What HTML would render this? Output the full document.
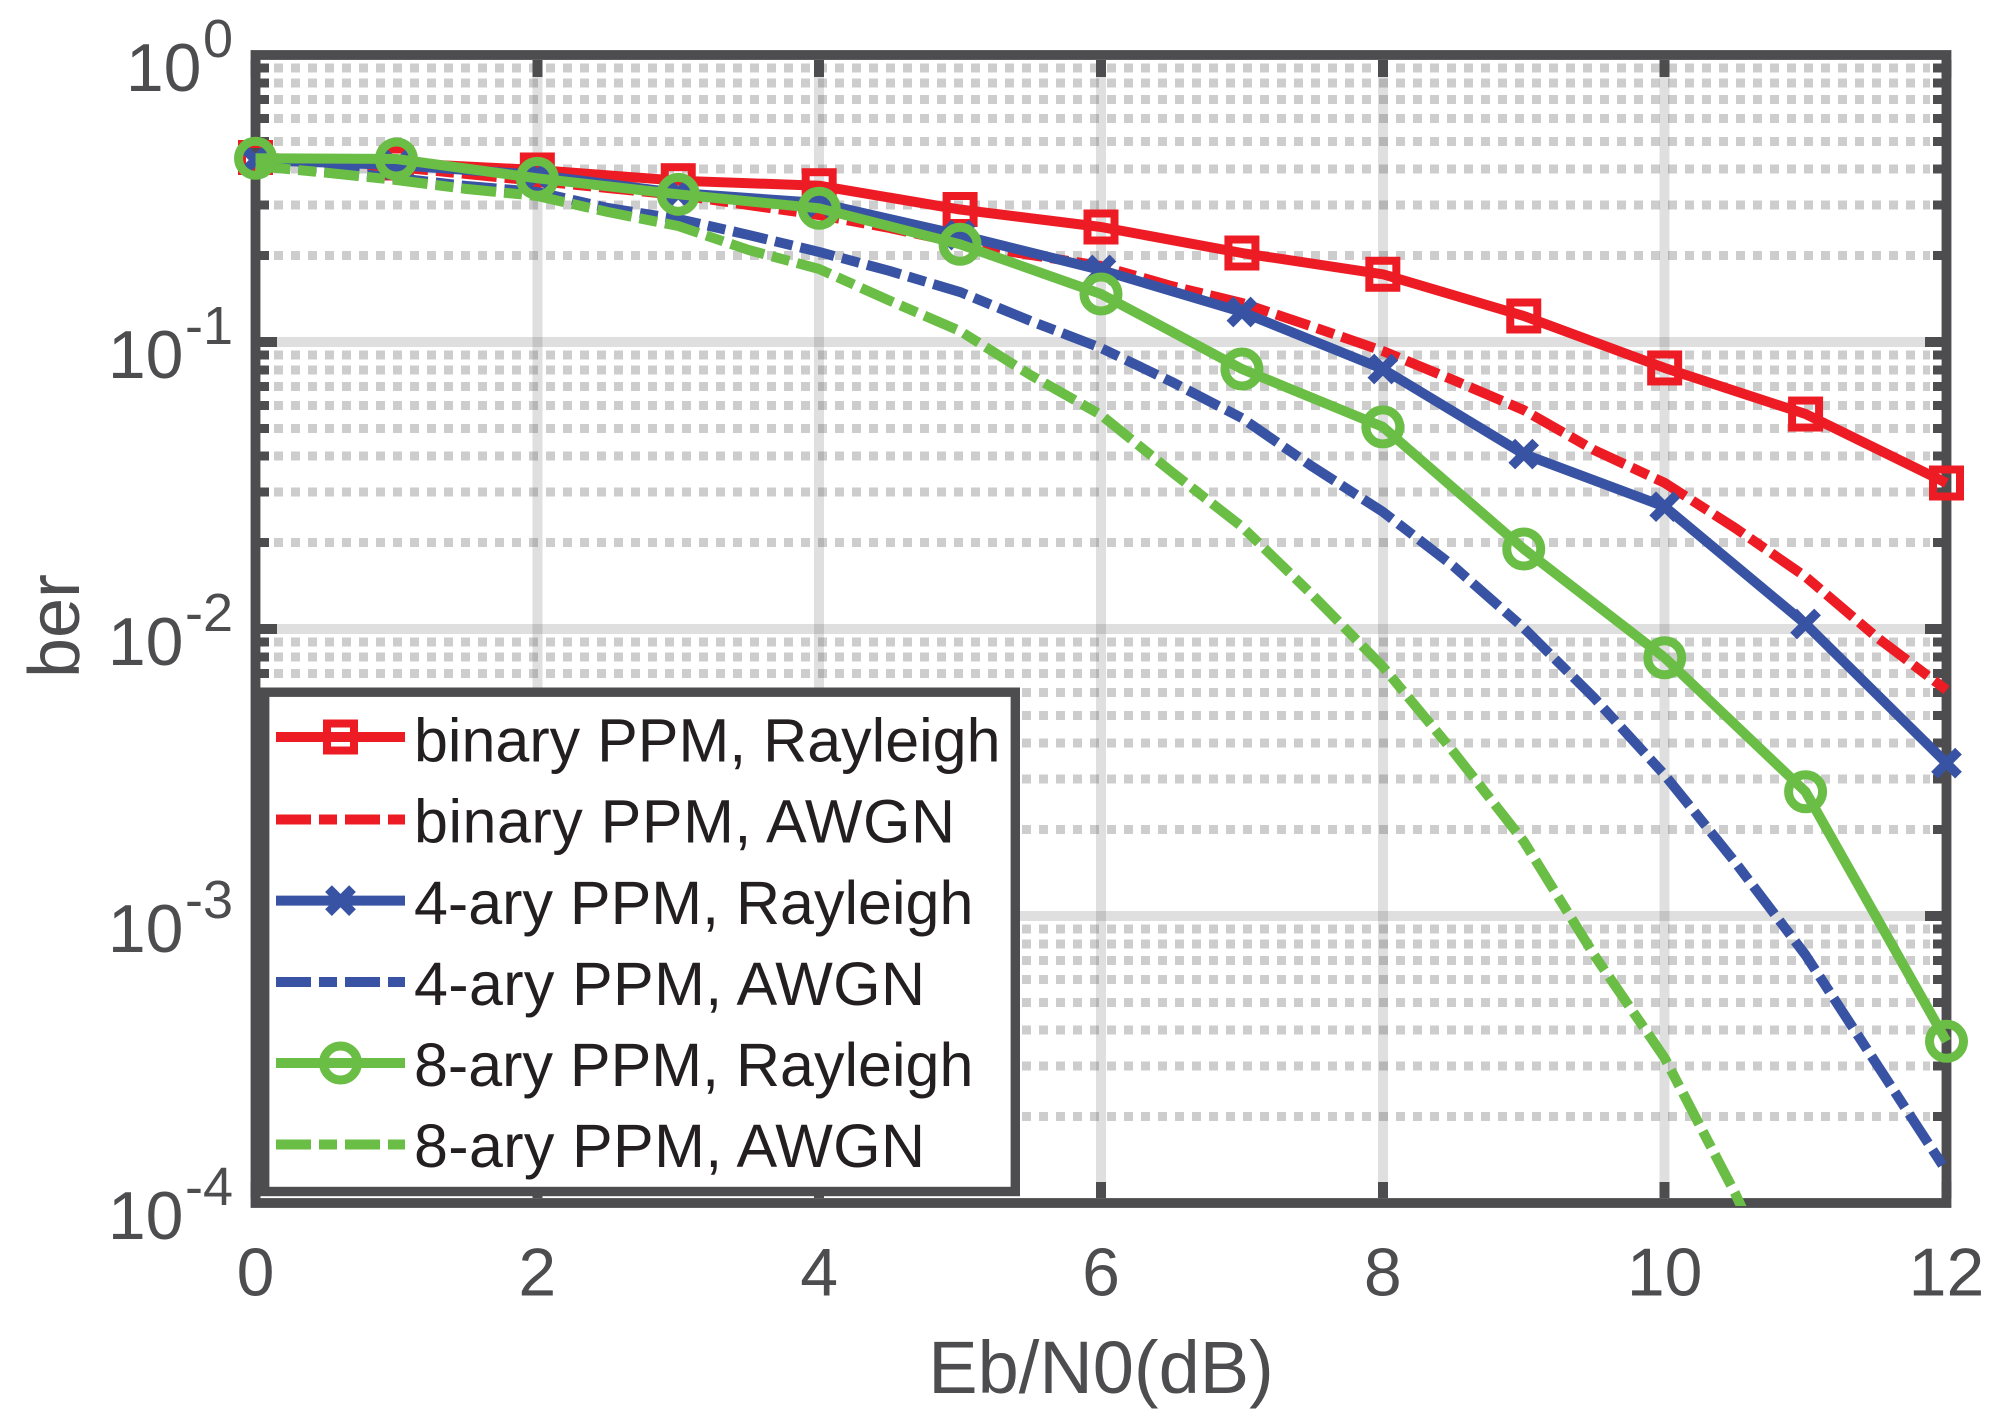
<!DOCTYPE html>
<html lang="en">
<head>
<meta charset="utf-8">
<title>BER vs Eb/N0</title>
<style>
html,body{margin:0;padding:0;background:#fff;width:2001px;height:1416px;overflow:hidden}
svg{display:block;font-family:"Liberation Sans",Arial,sans-serif}
</style>
</head>
<body>
<svg id="chart" xmlns="http://www.w3.org/2000/svg" width="2001" height="1416" viewBox="0 0 2001 1416">
  <defs>
    <clipPath id="plot-clip"><rect x="200" y="50" width="1751" height="1156"/></clipPath>
  </defs>
  <rect x="0" y="0" width="2001" height="1416" fill="#ffffff"/>
  <g id="grid" shape-rendering="crispEdges"></g>
  <g id="ticks" shape-rendering="crispEdges"></g>
  <rect x="255.5" y="55" width="1691" height="1148" fill="none" stroke="#4d4d4f" stroke-width="9.8"/>
  <g id="tick-labels"></g>
  <text x="1101" y="1393" font-size="74" fill="#4d4d4f" text-anchor="middle">Eb/N0(dB)</text>
  <text x="79" y="626" font-size="72" fill="#4d4d4f" text-anchor="middle" transform="rotate(-90 79 626)">ber</text>
  <g id="series"></g>
  <g>
    <rect x="264.7" y="692.2" width="750.6" height="499.3" fill="#ffffff" stroke="#4d4d4f" stroke-width="9.4"/>
    <g>
      <line x1="276" y1="737" x2="405" y2="737" stroke="#ed1c24" stroke-width="10"/>
      <rect x="327" y="723.5" width="27" height="27" fill="none" stroke="#ed1c24" stroke-width="8"/>
      <text x="414" y="761.4" font-size="61" fill="#231f20">binary PPM, Rayleigh</text>
    </g>
    <g>
      <line x1="276" y1="819.5" x2="405" y2="819.5" stroke="#ed1c24" stroke-width="10" stroke-dasharray="35 8 18 8"/>
      <text x="414" y="842.6" font-size="61" fill="#231f20" textLength="541" lengthAdjust="spacing">binary PPM, AWGN</text>
    </g>
    <g>
      <line x1="276" y1="900.6" x2="405" y2="900.6" stroke="#3953a4" stroke-width="10"/>
      <path d="M328.5 888.6 L352.5 912.6 M352.5 888.6 L328.5 912.6" fill="none" stroke="#3953a4" stroke-width="9.5"/>
      <text x="414" y="923.8" font-size="61" fill="#231f20">4-ary PPM, Rayleigh</text>
    </g>
    <g>
      <line x1="276" y1="982" x2="405" y2="982" stroke="#3953a4" stroke-width="10" stroke-dasharray="35 8 18 8"/>
      <text x="414" y="1005" font-size="61" fill="#231f20" textLength="511" lengthAdjust="spacing">4-ary PPM, AWGN</text>
    </g>
    <g>
      <line x1="276" y1="1063" x2="405" y2="1063" stroke="#6abd45" stroke-width="10"/>
      <circle cx="340.5" cy="1063" r="17" fill="none" stroke="#6abd45" stroke-width="9"/>
      <text x="414" y="1086" font-size="61" fill="#231f20">8-ary PPM, Rayleigh</text>
    </g>
    <g>
      <line x1="276" y1="1144.5" x2="405" y2="1144.5" stroke="#6abd45" stroke-width="10" stroke-dasharray="35 8 18 8"/>
      <text x="414" y="1167" font-size="61" fill="#231f20" textLength="511" lengthAdjust="spacing">8-ary PPM, AWGN</text>
    </g>
  </g>
</svg>
<script>
var xTicks = [0, 2, 4, 6, 8, 10, 12];
var yTickExponents = [0, -1, -2, -3, -4];
var yMinorMultipliers = [2, 3, 4, 5, 6, 7, 8, 9];

var rayleighEbN0 = [0, 1, 2, 3, 4, 5, 6, 7, 8, 9, 10, 11, 12];
var binaryRayleigh = [0.4394, 0.4204, 0.3975, 0.3648, 0.3504, 0.2895, 0.2516, 0.2042, 0.1722, 0.1232, 0.0812, 0.0561, 0.03226];
var fourAryRayleigh = [0.4306, 0.4136, 0.3819, 0.3304, 0.3050, 0.2360, 0.1782, 0.1272, 0.0805, 0.0407, 0.02668, 0.01041, 0.00341];
var eightAryRayleigh = [0.4366, 0.4341, 0.3718, 0.3270, 0.2923, 0.2190, 0.1470, 0.0805, 0.0506, 0.0190, 0.00794, 0.00271, 0.000366];

var awgnEbN0 = [0, 0.5, 1, 1.5, 2, 2.5, 3, 3.5, 4, 4.5, 5, 5.5, 6, 6.5, 7, 7.5, 8, 8.5, 9, 9.5, 10, 10.5, 11, 11.5, 12];
var binaryAwgn = [0.4306, 0.4204, 0.4072, 0.3849, 0.3639, 0.3440, 0.3253, 0.3001, 0.2770, 0.2496, 0.2213, 0.2010, 0.1840, 0.1567, 0.1368, 0.1131, 0.0930, 0.0737, 0.0579, 0.0420, 0.0323, 0.02249, 0.01521, 0.00940, 0.00613];
var fourAryAwgn = [0.4136, 0.3975, 0.3727, 0.3495, 0.3331, 0.2931, 0.2683, 0.2360, 0.2059, 0.1768, 0.1493, 0.1184, 0.0953, 0.0727, 0.0543, 0.0368, 0.0256, 0.01657, 0.01008, 0.00575, 0.00310, 0.00154, 0.000731, 0.000307, 0.000129];
var eightAryAwgn = [0.4104, 0.3890, 0.3668, 0.3412, 0.3227, 0.2838, 0.2536, 0.2092, 0.1796, 0.1393, 0.1092, 0.0767, 0.0557, 0.0353, 0.02272, 0.01314, 0.00739, 0.00374, 0.00182, 0.000731, 0.000320, 0.000108, 0.000032];

var SVG_NS = 'http://www.w3.org/2000/svg';
var RED = '#ed1c24', BLUE = '#3953a4', GREEN = '#6abd45', AXIS = '#4d4d4f';
var LEFT = 255.5, RIGHT = 1946.5, TOP = 55, DECADE = 287, X_MAX = 12;

function sx(v) { return LEFT + v * (RIGHT - LEFT) / X_MAX; }
function sy(v) { return TOP - Math.log10(v) * DECADE; }

function make(tag, parent) {
  var el = document.createElementNS(SVG_NS, tag);
  parent.appendChild(el);
  return el;
}
function seg(el, x1, y1, x2, y2, color, width) {
  el.setAttribute('x1', x1);
  el.setAttribute('y1', y1);
  el.setAttribute('x2', x2);
  el.setAttribute('y2', y2);
  el.setAttribute('stroke', color);
  el.setAttribute('stroke-width', width);
}

var gridG = document.getElementById('grid');
var ticksG = document.getElementById('ticks');
var labelsG = document.getElementById('tick-labels');
var seriesG = document.getElementById('series');

yTickExponents.forEach(function (e, i) {
  var base = Math.pow(10, e);
  var y = sy(base);
  if (i > 0 && i < yTickExponents.length - 1) {
    var gl = make('line', gridG);
    
    
    seg(gl, 277, y, 1925, y, AXIS, 10);
    gl.setAttribute('stroke-opacity', '0.18');
    var tl = make('line', ticksG);
    
    
    seg(tl, 260, y, 277, y, AXIS, 10);
    var tr = make('line', ticksG);
    
    
    seg(tr, 1925, y, 1942, y, AXIS, 10);
  }
  var t = make('text', labelsG);
  
  
  t.setAttribute('x', 233);
  t.setAttribute('y', y + 36);
  t.setAttribute('font-size', 68);
  t.setAttribute('fill', AXIS);
  t.setAttribute('text-anchor', 'end');
  t.appendChild(document.createTextNode('10'));
  var sup = make('tspan', t);
  sup.setAttribute('dy', -34);
  sup.setAttribute('dx', 1.5);
  sup.setAttribute('font-size', 54);
  sup.textContent = String(e);

  if (i < yTickExponents.length - 1) {
    yMinorMultipliers.forEach(function (m) {
      var my = sy(base / 10 * m);
      var d = make('line', gridG);
      
      
      seg(d, 274, my, 1930, my, AXIS, 9);
      d.setAttribute('stroke-opacity', '0.28');
      d.setAttribute('stroke-dasharray', '9 8');
      var ml = make('line', ticksG);
      
      
      seg(ml, 260, my, 269, my, AXIS, 9);
      var mr = make('line', ticksG);
      
      
      seg(mr, 1933, my, 1942, my, AXIS, 9);
    });
  }
});

xTicks.forEach(function (v) {
  var x = sx(v);
  var gl = make('line', gridG);
  
  
  seg(gl, x, 77, x, 1182, AXIS, 10);
  gl.setAttribute('stroke-opacity', '0.18');
  var tt = make('line', ticksG);
  
  
  seg(tt, x, 60, x, 77, AXIS, 10);
  var tb = make('line', ticksG);
  
  
  seg(tb, x, 1182, x, 1198, AXIS, 10);
  var t = make('text', labelsG);
  
  
  t.setAttribute('x', x);
  t.setAttribute('y', 1295.5);
  t.setAttribute('font-size', 68);
  t.setAttribute('fill', AXIS);
  t.setAttribute('text-anchor', 'middle');
  t.textContent = String(v);
});

function pointsOf(xs, ys) {
  return ys.map(function (v, i) { return sx(xs[i]).toFixed(2) + ',' + sy(v).toFixed(2); }).join(' ');
}
function styleLine(el, xs, ys, color) {
  el.setAttribute('points', pointsOf(xs, ys));
  el.setAttribute('fill', 'none');
  el.setAttribute('stroke', color);
  el.setAttribute('stroke-width', 10);
  el.setAttribute('stroke-linejoin', 'round');
}

var lineBinRay = make('polyline', seriesG);


styleLine(lineBinRay, rayleighEbN0, binaryRayleigh, RED);

binaryRayleigh.forEach(function (v, i) {
  var m = make('rect', seriesG);
  
  
  m.setAttribute('x', sx(rayleighEbN0[i]) - 13.5);
  m.setAttribute('y', sy(v) - 13.5);
  m.setAttribute('width', 27);
  m.setAttribute('height', 27);
  m.setAttribute('fill', 'none');
  m.setAttribute('stroke', RED);
  m.setAttribute('stroke-width', 8);
});

var lineBinAwgn = make('polyline', seriesG);


styleLine(lineBinAwgn, awgnEbN0, binaryAwgn, RED);
lineBinAwgn.setAttribute('stroke-dasharray', '35 8 18 8');
lineBinAwgn.setAttribute('clip-path', 'url(#plot-clip)');

var line4Ray = make('polyline', seriesG);


styleLine(line4Ray, rayleighEbN0, fourAryRayleigh, BLUE);

fourAryRayleigh.forEach(function (v, i) {
  var cx = sx(rayleighEbN0[i]), cy = sy(v), h = 12;
  var m = make('path', seriesG);
  
  
  m.setAttribute('d', 'M' + (cx - h) + ' ' + (cy - h) + ' L' + (cx + h) + ' ' + (cy + h) + ' M' + (cx + h) + ' ' + (cy - h) + ' L' + (cx - h) + ' ' + (cy + h));
  m.setAttribute('fill', 'none');
  m.setAttribute('stroke', BLUE);
  m.setAttribute('stroke-width', 9.5);
});

var line4Awgn = make('polyline', seriesG);


styleLine(line4Awgn, awgnEbN0, fourAryAwgn, BLUE);
line4Awgn.setAttribute('stroke-dasharray', '35 8 18 8');
line4Awgn.setAttribute('clip-path', 'url(#plot-clip)');

var line8Ray = make('polyline', seriesG);


styleLine(line8Ray, rayleighEbN0, eightAryRayleigh, GREEN);

eightAryRayleigh.forEach(function (v, i) {
  var m = make('circle', seriesG);
  
  
  m.setAttribute('cx', sx(rayleighEbN0[i]));
  m.setAttribute('cy', sy(v));
  m.setAttribute('r', 17);
  m.setAttribute('fill', 'none');
  m.setAttribute('stroke', GREEN);
  m.setAttribute('stroke-width', 9);
});

var line8Awgn = make('polyline', seriesG);


styleLine(line8Awgn, awgnEbN0, eightAryAwgn, GREEN);
line8Awgn.setAttribute('stroke-dasharray', '35 8 18 8');
line8Awgn.setAttribute('clip-path', 'url(#plot-clip)');
</script>
</body>
</html>
